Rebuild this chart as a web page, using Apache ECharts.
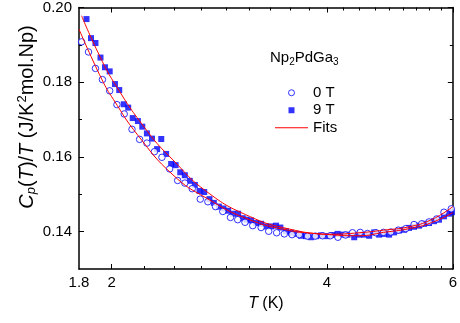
<!DOCTYPE html>
<html><head><meta charset="utf-8">
<script src="https://cdn.jsdelivr.net/npm/echarts@6/dist/echarts.min.js"></script>
<style>html,body{margin:0;padding:0;background:#fff}#c{width:460px;height:323px}</style>
</head><body><div id="c"></div><script>
// ---- data ----
const T_0T = [1.815,1.856,1.898,1.941,1.987,2.034,2.082,2.135,2.188,2.240,2.295,2.351,2.410,2.473,2.531,2.592,2.660,2.726,2.794,2.860,2.932,3.001,3.072,3.150,3.236,3.316,3.402,3.487,3.575,3.659,3.758,3.853,3.944,4.043,4.144,4.247,4.343,4.452,4.558,4.682,4.798,4.913,5.035,5.156,5.295,5.428,5.557,5.696,5.831,5.970];
const C_0T = [0.1908,0.1881,0.1837,0.1807,0.1777,0.1740,0.1715,0.1674,0.1647,0.1637,0.1614,0.1599,0.1568,0.1537,0.1530,0.1515,0.1487,0.1480,0.1467,0.1454,0.1438,0.1432,0.1425,0.1416,0.1411,0.1401,0.1397,0.1394,0.1392,0.1392,0.1388,0.1388,0.1389,0.1389,0.1385,0.1391,0.1397,0.1398,0.1395,0.1397,0.1398,0.1399,0.1404,0.1408,0.1419,0.1421,0.1426,0.1434,0.1452,0.1461];
const T_9T = [1.844,1.871,1.898,1.929,1.957,1.987,2.021,2.049,2.079,2.109,2.140,2.176,2.207,2.240,2.277,2.315,2.346,2.383,2.422,2.457,2.494,2.531,2.572,2.614,2.654,2.694,2.740,2.779,2.824,2.866,2.910,2.953,3.005,3.050,3.089,3.133,3.184,3.236,3.288,3.341,3.395,3.443,3.506,3.563,3.621,3.680,3.739,3.800,3.861,3.924,3.995,4.073,4.139,4.206,4.274,4.367,4.438,4.510,4.583,4.657,4.732,4.809,4.887,4.966,5.046,5.128,5.211,5.295,5.381,5.468,5.557,5.647,5.738,5.831,5.926,5.983];
const C_9T = [0.1969,0.1918,0.1905,0.1866,0.1840,0.1829,0.1795,0.1779,0.1741,0.1732,0.1704,0.1696,0.1681,0.1663,0.1649,0.1621,0.1648,0.1608,0.1581,0.1578,0.1559,0.1551,0.1536,0.1525,0.1509,0.1506,0.1487,0.1477,0.1467,0.1462,0.1456,0.1448,0.1448,0.1436,0.1432,0.1430,0.1423,0.1421,0.1414,0.1414,0.1416,0.1411,0.1401,0.1397,0.1394,0.1389,0.1388,0.1385,0.1388,0.1390,0.1388,0.1391,0.1394,0.1392,0.1392,0.1385,0.1392,0.1392,0.1389,0.1398,0.1392,0.1394,0.1392,0.1398,0.1403,0.1405,0.1410,0.1413,0.1416,0.1421,0.1423,0.1428,0.1432,0.1441,0.1448,0.1452];
const FIT0_T = [1.8,1.937,2.011,2.174,2.436,2.712,3.116,3.544,3.800,4.030,4.438,4.800,5.211,5.600,6.0];
const FIT0_C = [0.1942,0.1808,0.1754,0.1659,0.1552,0.1490,0.1432,0.1403,0.1396,0.1393,0.1397,0.1404,0.1413,0.1432,0.1467];
const FIT9_T = [1.815,1.912,2.018,2.245,2.436,2.712,3.116,3.544,4.030,4.438,4.800,5.211,5.600,6.0];
const FIT9_C = [0.1978,0.1881,0.1797,0.1668,0.1592,0.1508,0.1441,0.1407,0.1392,0.1389,0.1398,0.1408,0.1424,0.1451];
const X_MIN = 1.8, X_MAX = 6;
const X_LABELS = [1.8, 2, 4, 6];
const X_MAJOR = [2, 4, 6];
const X_MINOR = [2.222,2.444,2.667,2.889,3.111,3.333,3.556,3.778,4.222,4.444,4.667,4.889,5.111,5.333,5.556,5.778];
const Y_MIN = 0.13, Y_MAX = 0.20;
const Y_MAJOR = [0.14, 0.16, 0.18, 0.20];
const Y_MINOR = [0.15, 0.17, 0.19];
const SERIES_NAMES = ['0 T', '9 T', 'Fits'];

// ---- chart ----
const FONT = 'Liberation Sans, Arial, sans-serif';
const lg = v => Math.log10(v);
const zip = (a, b) => a.map((v, i) => [v, b[i]]);
const axisLine = {show: true, onZero: false, lineStyle: {color: '#000', width: 1.5}};
const noLine = {show: false, onZero: false};
const tickStyle = {color: '#000', width: 1};

function xTickAxis(pos, values, len, withLine, labels) {
  return {
    type: 'value', min: lg(X_MIN), max: lg(X_MAX), position: pos,
    axisLine: withLine ? axisLine : noLine,
    axisTick: {show: true, inside: true, length: len, customValues: values.map(lg), lineStyle: tickStyle},
    axisLabel: labels ? {show: true, customValues: labels.map(lg), margin: 6,
      formatter: v => String(+Math.pow(10, v).toFixed(1)), fontSize: 15, color: '#000', fontFamily: FONT}
      : {show: false},
    splitLine: {show: false}
  };
}
function yTickAxis(pos, values, len, withLine, labels) {
  return {
    type: 'value', min: Y_MIN, max: Y_MAX, position: pos,
    axisLine: withLine ? axisLine : noLine,
    axisTick: {show: true, inside: true, length: len, customValues: values, lineStyle: tickStyle},
    axisLabel: labels ? {show: true, customValues: labels, margin: 7,
      formatter: v => v.toFixed(2), fontSize: 15, color: '#000', fontFamily: FONT}
      : {show: false},
    splitLine: {show: false}
  };
}

const xBottom = xTickAxis('bottom', X_MAJOR, 5, true, X_LABELS);
xBottom.name = '{i|T} (K)';
xBottom.nameLocation = 'middle';
xBottom.nameGap = 27;
xBottom.nameTextStyle = {fontSize: 16, color: '#000', fontFamily: FONT,
  rich: {i: {fontSize: 16, fontStyle: 'italic', fontFamily: FONT, color: '#000'}}};

const option = {
  animation: false,
  backgroundColor: '#fff',
  grid: {left: 79, right: 6, top: 7, bottom: 54, containLabel: false},
  xAxis: [
    {type: 'log', logBase: 10, min: X_MIN, max: X_MAX, position: 'bottom',
     axisLine: noLine, axisTick: {show: false}, axisLabel: {show: false}, splitLine: {show: false}},
    xBottom,
    xTickAxis('bottom', X_MINOR, 3, false, null),
    xTickAxis('top', X_MAJOR, 5, true, null),
    xTickAxis('top', X_MINOR, 3, false, null)
  ],
  yAxis: [
    yTickAxis('left', Y_MAJOR, 5, true, Y_MAJOR),
    yTickAxis('left', Y_MINOR, 3, false, null),
    yTickAxis('right', Y_MAJOR, 5, true, null),
    yTickAxis('right', Y_MINOR, 3, false, null)
  ],
  title: {
    text: '{n|Np}{s|2}{n|PdGa}{s|3}', left: 270, top: 49, padding: 0,
    textStyle: {fontWeight: 'normal', rich: {
      n: {fontSize: 15, fontFamily: FONT, color: '#000', fontWeight: 'normal', lineHeight: 18},
      s: {fontSize: 10, fontFamily: FONT, color: '#000', fontWeight: 'normal', lineHeight: 10, verticalAlign: 'bottom'}
    }}
  },
  legend: {
    data: [
      {name: SERIES_NAMES[0], icon: 'circle', itemStyle: {borderWidth: 1, borderColor: '#0000ff', color: '#fff'}},
      {name: SERIES_NAMES[1], icon: 'path://M0,0L1,0L1,1L0,1Z', itemStyle: {color: '#0000ff', borderWidth: 0}},
      {name: SERIES_NAMES[2], icon: 'path://M0,0L33,0L33,1.2L0,1.2Z', itemStyle: {color: '#ff0000', borderWidth: 0}}
    ],
    orient: 'vertical', left: 275, top: 84, padding: 0, itemWidth: 33, itemHeight: 6, itemGap: 0,
    symbolKeepAspect: true, selectedMode: false,
    textStyle: {fontSize: 15, color: '#000', fontFamily: FONT, lineHeight: 17.5}
  },
  graphic: [{
    type: 'text', x: 27, y: 117, rotation: Math.PI / 2,
    style: {
      text: '{i|C}{b|p}{n|(}{i|T}{n|)/}{i|T}{n| (J/K}{u|2}{n|mol.Np)}',
      align: 'center', verticalAlign: 'middle',
      rich: {
        n: {fontSize: 20, fontFamily: FONT, fill: '#000', lineHeight: 22},
        i: {fontSize: 20, fontFamily: FONT, fill: '#000', fontStyle: 'italic', lineHeight: 22},
        b: {fontSize: 13, fontFamily: FONT, fill: '#000', fontStyle: 'italic', lineHeight: 13, verticalAlign: 'bottom'},
        u: {fontSize: 13, fontFamily: FONT, fill: '#000', lineHeight: 13, verticalAlign: 'top'}
      }
    }
  }],
  series: [
    {name: SERIES_NAMES[1], type: 'scatter', xAxisIndex: 0, yAxisIndex: 0,
     data: zip(T_9T, C_9T), symbol: 'rect', symbolSize: 6,
     itemStyle: {color: '#0000ff'}, z: 2},
    {name: SERIES_NAMES[0], type: 'scatter', xAxisIndex: 0, yAxisIndex: 0,
     data: zip(T_0T, C_0T), symbol: 'circle', symbolSize: 6.5,
     itemStyle: {color: '#fff', borderColor: '#0000ff', borderWidth: 1}, z: 3},
    {name: SERIES_NAMES[2], type: 'line', xAxisIndex: 0, yAxisIndex: 0,
     data: zip(FIT0_T, FIT0_C), smooth: true, symbol: 'none',
     lineStyle: {color: '#ff0000', width: 1}, itemStyle: {color: '#ff0000'}, z: 4},
    {name: SERIES_NAMES[2], type: 'line', xAxisIndex: 0, yAxisIndex: 0,
     data: zip(FIT9_T, FIT9_C), smooth: true, symbol: 'none',
     lineStyle: {color: '#ff0000', width: 1}, itemStyle: {color: '#ff0000'}, z: 4}
  ]
};
const chart = echarts.init(document.getElementById('c'), null, {renderer: 'canvas'});
chart.setOption(option);
</script></body></html>
